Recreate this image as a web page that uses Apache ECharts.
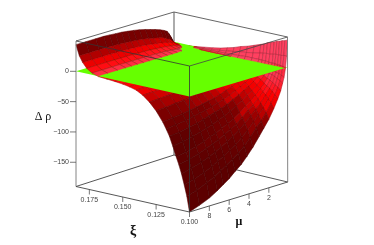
<!DOCTYPE html>
<html><head><meta charset="utf-8">
<style>html,body{margin:0;padding:0;background:#fff}#c{width:374px;height:245px}</style>
<script src="https://cdn.jsdelivr.net/npm/echarts@6/dist/echarts.min.js"></script>
</head><body><div id="c"></div>
<script>
const xiValues=[.100,.102,.104,.106,.108,.110,.1125,.115,.1175,.120,.125,.130,.135,.140,.145,.150,.156,.162,.168,.173,.177,.180,.1825,.185];
const muValues=[.1,.2,.3,.45,.6,.8,1.1,1.5,2,2.5,3,3.6,4.2,4.8,5.4,6,6.6,7.2,8,9,10];
const rhoRows=[
[45,19,0,-15,-24,-36,-48,-62,-77,-89,-101,-115,-127,-138,-146,-155,-162,-169,-177,-184,-190],
[43,19,1,-13,-21,-31,-42,-54,-67,-78,-87,-100,-111,-120,-127,-134,-140,-147,-153,-160,-165],
[42,18,2,-11,-18,-28,-37,-48,-60,-69,-78,-89,-98,-107,-113,-120,-125,-131,-137,-143,-147],
[40,18,2,-10,-16,-25,-33,-42,-53,-61,-69,-79,-87,-94,-100,-106,-111,-116,-121,-126,-130],
[39,18,3,-8,-14,-22,-30,-38,-47,-55,-61,-70,-78,-84,-89,-95,-99,-103,-108,-113,-116],
[37,17,3,-7,-13,-20,-27,-34,-42,-49,-55,-63,-70,-75,-80,-85,-88,-93,-97,-101,-104],
[35,16,3,-6,-11,-17,-22,-29,-36,-41,-47,-53,-59,-64,-68,-72,-75,-78,-82,-85,-88],
[33,16,4,-5,-9,-14,-19,-24,-30,-34,-39,-44,-49,-53,-56,-59,-62,-65,-68,-71,-73],
[30,15,4,-4,-7,-12,-16,-20,-25,-29,-33,-38,-42,-45,-48,-51,-53,-55,-58,-60,-62],
[28,14,4,-3,-6,-10,-13,-17,-21,-24,-28,-31,-35,-38,-40,-42,-44,-46,-48,-50,-52],
[24,12,4,-2,-4,-7,-9,-12,-15,-17,-19,-22,-24,-26,-28,-29,-31,-32,-33,-35,-36],
[20,10,4,-1,-3,-5,-6,-8,-10,-11,-13,-15,-16,-17,-18,-20,-20,-21,-22,-23,-24],
[17,9,3,-.2,-1.7,-2.9,-3.8,-4.9,-6.1,-7,-8,-9.1,-10,-10.9,-11.6,-12.2,-12.8,-13.4,-14,-14.6,-15],
[13,6.9,2.7,0,-.9,-1.7,-2.3,-2.9,-3.6,-4.2,-4.8,-5.4,-6,-6.5,-6.9,-7.3,-7.7,-8,-8.4,-8.7,-9],
[10,5.3,2.1,.1,-.6,-1.1,-1.5,-2,-2.4,-2.8,-3.2,-3.6,-4,-4.4,-4.6,-4.9,-5.1,-5.3,-5.6,-5.8,-6],
[7,3.7,1.5,.1,-.4,-.8,-1,-1.3,-1.6,-1.9,-2.1,-2.4,-2.7,-2.9,-3.1,-3.3,-3.4,-3.6,-3.7,-3.9,-4],
[4.5,2.4,1,.1,-.2,-.5,-.6,-.8,-1,-1.2,-1.3,-1.5,-1.7,-1.8,-1.9,-2,-2.1,-2.2,-2.3,-2.4,-2.5],
[2.5,1.3,.5,.03,-.15,-.3,-.4,-.5,-.6,-.7,-.8,-.9,-1,-1.1,-1.2,-1.2,-1.3,-1.3,-1.4,-1.5,-1.5],
[.5,.2,.1,-.1,-.13,-.1,-.1,-.1,-.14,-.17,-.2,-.2,-.3,-.3,-.3,-.4,-.4,-.4,-.5,-.5,-.55],
[-1.3,-.6,-.5,-.8,-.6,-.3,0,.6,1.4,2.2,2.5,2.8,2.9,3,3.1,3.1,3.2,3.2,3.1,3.1,3.05],
[-2.7,-1.3,-.8,-.3,.2,1.2,2.6,3.9,5.4,6,6.9,7.8,8.1,8.4,8.7,8.75,8.9,9,9,8.9,8.9],
[-4.2,-1.9,-.1,.5,2,4.9,6.5,8.2,10.1,11.4,13,14.6,15.3,15.9,16.4,16.6,17,17.1,17.1,17,17],
[-8,-3,-1,2,5,8,11,15.2,17.3,19,21,23,24.1,25,25.9,26.2,26.8,27,27,26.9,26.9],
[-15,-4.8,3,11,16,21,24,27,30,32.5,35,37.4,39.3,40.8,42.2,42.7,43.6,44.1,44.1,44,44]
];
const xiTicks=[0.175,0.150,0.125,0.100];
const muTicks=[8,6,4,2];
const rhoTicks=[0,-50,-100,-150];
const xiMin=.1,xiMax=.185,muMin=.1,muMax=10,rhoMin=-190,rhoMax=50;

// screen positions of the plot box corners
const B={F:[189.5,212],L:[76,186.5],R:[287.7,182],K:[174,155]};
const T={F:[189.5,66],L:[76,41],R:[287.5,37],K:[174,12]};
function proj(xi,mu,rho){
  const u=(xi-xiMin)/(xiMax-xiMin),v=(muMax-mu)/(muMax-muMin),w=(rho-rhoMin)/(rhoMax-rhoMin);
  const q=(c,k)=>(1-u)*(1-v)*c.F[k]+u*(1-v)*c.L[k]+(1-u)*v*c.R[k]+u*v*c.K[k];
  return [q(B,0)*(1-w)+q(T,0)*w,q(B,1)*(1-w)+q(T,1)*w];
}
function mix(a,b,t){return a.map((x,i)=>Math.round(x+(b[i]-x)*t));}
function shade(s){
  const stops=[[-.1,[92,0,0]],[.1,[125,0,0]],[.3,[235,0,0]],[.42,[255,0,0]],[.65,[255,64,96]]];
  if(s<=stops[0][0])return 'rgb('+stops[0][1]+')';
  for(let i=1;i<stops.length;i++) if(s<=stops[i][0])
    return 'rgb('+mix(stops[i-1][1],stops[i][1],(s-stops[i-1][0])/(stops[i][0]-stops[i-1][0]))+')';
  return 'rgb('+stops[stops.length-1][1]+')';
}
const cells=[];
for(let i=xiValues.length-2;i>=0;i--)for(let j=0;j<muValues.length-1;j++)cells.push([i,j]);

function cellColor(i,j){
  const a=rhoRows[i][j],b=rhoRows[i+1][j],c=rhoRows[i][j+1],d=rhoRows[i+1][j+1];
  const dz=(rhoMax-rhoMin);
  const wu=((b+d-a-c)/2/dz)/((xiValues[i+1]-xiValues[i])/(xiMax-xiMin));
  const wv=((c+d-a-b)/2/dz)/((muValues[j+1]-muValues[j])/(muMax-muMin));
  const lift=(a+b+c+d)>0?.2:0;
  return shade(lift+(-wu*.35-wv*.5+.48)/Math.sqrt(1+wu*wu+wv*wv));
}
function clip(pts,sign){
  const out=[];
  for(let k=0;k<pts.length;k++){
    const p=pts[k],q=pts[(k+1)%pts.length];
    const ip=sign*p[2]>=0,iq=sign*q[2]>=0;
    if(ip)out.push(p);
    if(ip!==iq){const t=p[2]/(p[2]-q[2]);out.push([p[0]+(q[0]-p[0])*t,p[1]+(q[1]-p[1])*t,0]);}
  }
  return out;
}
function surface(sign){
  return function(params,api){
    const [i,j]=cells[params.dataIndex];
    const quad=[[i,j],[i+1,j],[i+1,j+1],[i,j+1]].map(([a,b])=>[xiValues[a],muValues[b],rhoRows[a][b]]);
    const poly=clip(quad,sign);
    if(poly.length<3)return null;
    const px=poly.map(p=>api.coord(proj(p[0],p[1],p[2])));
    const col=cellColor(i,j);
    const kids=[{type:'polygon',shape:{points:px},style:{fill:col,stroke:col,lineWidth:.4},silent:true}];
    for(let k=0;k<poly.length;k++){
      const n=(k+1)%poly.length;
      if(poly[k][2]===0&&poly[n][2]===0)continue;
      kids.push({type:'line',shape:{x1:px[k][0],y1:px[k][1],x2:px[n][0],y2:px[n][1]},style:{stroke:'rgba(45,0,0,.5)',lineWidth:.4},silent:true});
    }
    return {type:'group',children:kids};
  };
}
function segs(list){
  return function(params,api){
    const s=list[params.dataIndex];
    const a=api.coord(s[0]),b=api.coord(s[1]);
    return {type:'line',shape:{x1:a[0],y1:a[1],x2:b[0],y2:b[1]},style:{stroke:s[2],lineWidth:s[3]},silent:true};
  };
}
const backLines=[
 [T.K,B.K,'#888',1.4],[T.L,T.K,'#555',.9],[T.K,T.R,'#555',.9],[B.L,B.K,'#444',.9],[B.K,B.R,'#444',.9]
];
const frontLines=[
 [T.L,T.F,'#333',.8],[T.F,T.R,'#444',.8],[T.F,B.F,'#333',.8],[T.L,B.L,'#777',.9],[T.R,B.R,'#777',.9],
 [B.L,B.F,'#444',.9],[B.F,B.R,'#444',.9]
];
const labels=[];
const tickLen=5;
xiTicks.forEach(t=>{const p=proj(t,muMax,rhoMin);
  frontLines.push([p,[p[0],p[1]+tickLen],'#555',.8]);
  labels.push({x:p[0],y:p[1]+10.5,t:t.toFixed(3),a:'center',f:'7px "Liberation Sans"'});});
muTicks.forEach(t=>{const p=proj(xiMin,t,rhoMin);
  frontLines.push([p,[p[0],p[1]+tickLen],'#555',.8]);
  labels.push({x:p[0],y:p[1]+10.5,t:String(t),a:'center',f:'7px "Liberation Sans"'});});
rhoTicks.forEach(t=>{const p=proj(xiMax,muMax,t);
  frontLines.push([[p[0]-6,p[1]],p,'#555',.8]);
  labels.push({x:p[0]-7,y:p[1],t:String(t).replace('-','\u2212'),a:'right',f:'7px "Liberation Sans"'});});
labels.push({x:43,y:117,t:'\u0394 \u03c1',a:'center',f:'12px "Liberation Serif"',c:'#111'});
labels.push({x:133,y:231,t:'\u03be',a:'center',f:'bold 14px "Liberation Serif"',c:'#111'});
labels.push({x:239,y:222,t:'\u03bc',a:'center',f:'bold 12px "Liberation Serif"',c:'#111'});

const planeCorners=[[xiMin,muMax,0],[xiMax,muMax,0],[xiMax,muMin,0],[xiMin,muMin,0]];
const base={type:'custom',coordinateSystem:'cartesian2d',clip:false,silent:true,animation:false};
const chart=echarts.init(document.getElementById('c'),null,{renderer:'canvas'});
chart.setOption({
 animation:false,backgroundColor:'#fff',
 grid:{left:0,right:0,top:0,bottom:0},
 xAxis:{type:'value',min:0,max:374,show:false},
 yAxis:{type:'value',min:0,max:245,inverse:true,show:false},
 series:[
  {...base,z:1,data:backLines.map((_,i)=>[i]),renderItem:segs(backLines)},
  {...base,z:2,data:cells.map((_,i)=>[i]),renderItem:surface(-1)},
  {...base,z:3,data:[[0]],renderItem:(p,api)=>({type:'polygon',shape:{points:planeCorners.map(c=>api.coord(proj(c[0],c[1],c[2])))},style:{fill:'#66ff00'},silent:true})},
  {...base,z:4,data:cells.map((_,i)=>[i]),renderItem:surface(1)},
  {...base,z:5,data:frontLines.map((_,i)=>[i]),renderItem:segs(frontLines)},
  {...base,z:6,data:labels.map((_,i)=>[i]),renderItem:(p,api)=>{const l=labels[p.dataIndex],c=api.coord([l.x,l.y]);
    return {type:'text',x:c[0],y:c[1],style:{text:l.t,font:l.f,fill:l.c||'#444',textAlign:l.a,textVerticalAlign:'middle'},silent:true};}}
 ]
});
</script></body></html>
